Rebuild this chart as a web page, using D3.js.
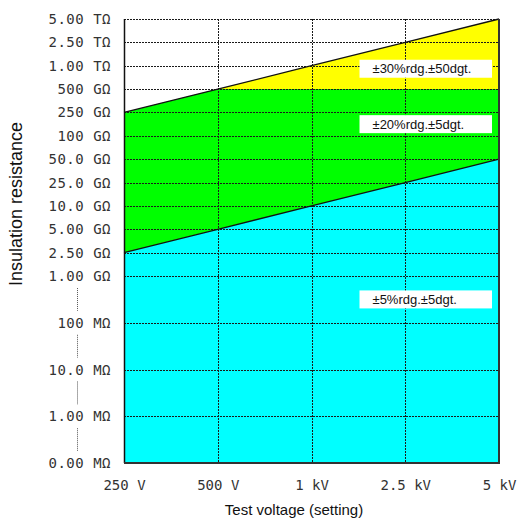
<!DOCTYPE html>
<html>
<head>
<meta charset="utf-8">
<script src="https://cdn.jsdelivr.net/npm/d3@7"></script>
<style>
  body { margin: 0; background: #fff; }
</style>
</head>
<body>
<div id="wrapper"></div>
<script>
// Data

const voltages = ["250 V", "500 V", "1 kV", "2.5 kV", "5 kV"];

const resistanceTicks = [
  "5.00 TΩ", "2.50 TΩ", "1.00 TΩ", "500 GΩ", "250 GΩ", "100 GΩ",
  "50.0 GΩ", "25.0 GΩ", "10.0 GΩ", "5.00 GΩ", "2.50 GΩ", "1.00 GΩ",
  "100 MΩ", "10.0 MΩ", "1.00 MΩ", "0.00 MΩ",
];
// ticks that sit after an axis break (decade skipped, dotted in the axis)
const brokenTicks = ["100 MΩ", "10.0 MΩ", "1.00 MΩ", "0.00 MΩ"];

// upper edge of each accuracy range, per test voltage
const limit5pct = ["2.50 GΩ", "5.00 GΩ", "10.0 GΩ", "25.0 GΩ", "50.0 GΩ"];
const limit20pct = ["250 GΩ", "500 GΩ", "500 GΩ", "500 GΩ", "500 GΩ"];
const limit30pct = ["250 GΩ", "500 GΩ", "1.00 TΩ", "2.50 TΩ", "5.00 TΩ"];

const accuracyLabels = ["±5%rdg.±5dgt.", "±20%rdg.±5dgt.", "±30%rdg.±50dgt."];
const accuracyColors = ["#00ffff", "#00ff00", "#ffff00"];

function drawChart() {

  // 1. Dimensions

  const dimensions = {
    width: 517,
    height: 521,
    margin: { top: 19, right: 18, bottom: 58, left: 124 },
  };
  dimensions.boundedWidth = dimensions.width
    - dimensions.margin.left - dimensions.margin.right;
  dimensions.boundedHeight = dimensions.height
    - dimensions.margin.top - dimensions.margin.bottom;

  // 2. Canvas

  const wrapper = d3.select("#wrapper")
    .append("svg")
      .attr("width", dimensions.width)
      .attr("height", dimensions.height);

  const bounds = wrapper.append("g")
      .attr("transform", `translate(${dimensions.margin.left},${dimensions.margin.top})`);

  // 3. Scales

  // a broken tick takes two steps: insert a blank slot before it
  const yDomain = [];
  resistanceTicks.forEach(t => {
    if (brokenTicks.includes(t)) yDomain.push("gap " + t);
    yDomain.push(t);
  });

  const xScale = d3.scalePoint()
      .domain(voltages)
      .range([0, dimensions.boundedWidth]);

  const yScale = d3.scalePoint()
      .domain(yDomain)
      .range([0, dimensions.boundedHeight]);

  // 4. Bands

  const xAt = (d, i) => xScale(voltages[i]);

  const bandLower = [
    voltages.map(() => dimensions.boundedHeight),
    limit5pct.map(yScale),
    limit20pct.map(yScale),
  ];
  const bandUpper = [
    limit5pct.map(yScale),
    limit20pct.map(yScale),
    limit30pct.map(yScale),
  ];

  accuracyColors.forEach((color, k) => {
    const area = d3.area()
        .x(xAt)
        .y0((d, i) => bandLower[k][i])
        .y1((d, i) => bandUpper[k][i]);
    bounds.append("path")
        .datum(voltages)
        .attr("d", area)
        .attr("fill", color);
  });

  // 5. Grid

  const grid = bounds.append("g")
      .attr("stroke", "#1a1a1a")
      .attr("stroke-width", 1)
      .attr("stroke-dasharray", "2,1");

  grid.selectAll(".h-grid")
    .data(resistanceTicks)
    .join("line")
      .attr("class", "h-grid")
      .attr("x1", 0)
      .attr("x2", dimensions.boundedWidth)
      .attr("y1", d => Math.round(yScale(d)) + 0.5)
      .attr("y2", d => Math.round(yScale(d)) + 0.5);

  grid.selectAll(".v-grid")
    .data(voltages.slice(1, -1))
    .join("line")
      .attr("class", "v-grid")
      .attr("x1", d => Math.round(xScale(d)) + 0.5)
      .attr("x2", d => Math.round(xScale(d)) + 0.5)
      .attr("y1", 0)
      .attr("y2", dimensions.boundedHeight);

  // limit lines
  const limitLine = d3.line().x(xAt).y(d => yScale(d));
  [limit5pct, limit30pct].forEach(limits => {
    bounds.append("path")
        .attr("d", limitLine(limits))
        .attr("fill", "none")
        .attr("stroke", "#111")
        .attr("stroke-width", 1.3);
  });

  // accuracy labels in white boxes
  const labelAnchors = [
    (yScale("1.00 GΩ") + yScale("100 MΩ")) / 2,
    (yScale("250 GΩ") + yScale("100 GΩ")) / 2,
    yScale("1.00 TΩ") + 3,
  ];
  const boxLeft = xScale("1 kV") + 48;
  const boxRight = xScale("5 kV") - 7;
  accuracyLabels.forEach((label, k) => {
    const cy = labelAnchors[k];
    bounds.append("rect")
        .attr("x", boxLeft)
        .attr("y", cy - 9)
        .attr("width", boxRight - boxLeft)
        .attr("height", 18)
        .attr("fill", "#fff");
    bounds.append("text")
        .attr("x", boxLeft + 13)
        .attr("y", cy + 4.5)
        .attr("font-family", "'Liberation Sans', Arial, sans-serif")
        .attr("font-size", 13)
        .attr("fill", "#111")
        .text(label);
  });

  // frame
  bounds.append("line")
      .attr("x1", 0.5).attr("x2", 0.5)
      .attr("y1", 0).attr("y2", dimensions.boundedHeight)
      .attr("stroke", "#111").attr("stroke-width", 1.5);
  bounds.append("path")
      .attr("d", `M0,${dimensions.boundedHeight}H${dimensions.boundedWidth}V0`)
      .attr("fill", "none")
      .attr("stroke", "#333")
      .attr("stroke-width", 2);

  // 6. Axes

  const yAxis = d3.axisLeft(yScale)
      .tickValues(resistanceTicks)
      .tickSize(0)
      .tickPadding(13);
  const yAxisGroup = bounds.append("g").call(yAxis);

  const xAxis = d3.axisBottom(xScale)
      .tickSize(0)
      .tickPadding(17);
  const xAxisGroup = bounds.append("g")
      .attr("transform", `translate(0,${dimensions.boundedHeight})`)
      .call(xAxis);

  [yAxisGroup, xAxisGroup].forEach(g => {
    g.select(".domain").remove();
    g.selectAll("text")
        .attr("font-family", "'DejaVu Sans Mono', monospace")
        .attr("font-size", 14)
        .attr("fill", "#333");
  });
  yAxisGroup.selectAll("text").attr("letter-spacing", 0.5);

  // dotted axis break between compressed decades
  bounds.append("g")
    .selectAll("line")
    .data(brokenTicks)
    .join("line")
      .attr("x1", -46.5)
      .attr("x2", -46.5)
      .attr("y1", d => yScale(d) - 2 * yScale.step() + 12)
      .attr("y2", d => yScale(d) - 12)
      .attr("stroke", "#555")
      .attr("stroke-dasharray", "1,1");

  // axis titles
  wrapper.append("text")
      .attr("x", 294)
      .attr("y", 515)
      .attr("text-anchor", "middle")
      .attr("font-family", "'Liberation Sans', Arial, sans-serif")
      .attr("font-size", 15)
      .attr("fill", "#111")
      .text("Test voltage (setting)");

  wrapper.append("text")
      .attr("transform", "translate(22,204) rotate(-90)")
      .attr("text-anchor", "middle")
      .attr("font-family", "'Liberation Sans', Arial, sans-serif")
      .attr("font-size", 18)
      .attr("fill", "#111")
      .text("Insulation resistance");
}
drawChart();
</script>
</body>
</html>
